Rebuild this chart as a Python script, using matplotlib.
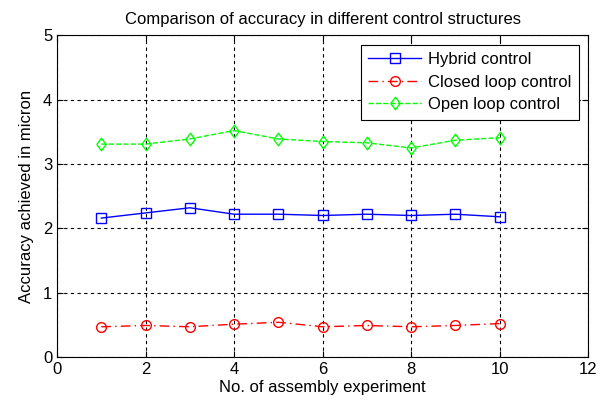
import matplotlib
matplotlib.use("Agg")
import matplotlib.pyplot as plt

# accuracy per assembly experiment (micron)
experiments = [1, 2, 3, 4, 5, 6, 7, 8, 9, 10]
hybrid = [2.16, 2.24, 2.32, 2.22, 2.22, 2.20, 2.22, 2.20, 2.22, 2.18]
closed_loop = [0.47, 0.49, 0.47, 0.51, 0.54, 0.47, 0.49, 0.47, 0.49, 0.52]
open_loop = [3.31, 3.31, 3.39, 3.52, 3.39, 3.35, 3.33, 3.25, 3.37, 3.41]

plt.rcParams['font.family'] = ['Liberation Sans', 'DejaVu Sans']
plt.rcParams['font.size'] = 12

# diamond a bit wider than matplotlib's thin 'd'
diamond = [(-0.75, 0), (0, 1), (0.75, 0), (0, -1), (-0.75, 0)]

fig = plt.figure(figsize=(6.07, 4.0), dpi=100)
ax = fig.add_axes([0.094, 0.1075, 0.875, 0.804])

ax.plot(experiments, hybrid, color='#0000ff', linestyle='-', marker='s',
        markersize=7, markerfacecolor='none', linewidth=1, label='Hybrid control')
ax.plot(experiments, closed_loop, color='#ff0000', linestyle=(0, (7, 3, 1, 3)),
        marker='o', markersize=7, markerfacecolor='none', linewidth=1,
        label='Closed loop control')
ax.plot(experiments, open_loop, color='#00ff00', linestyle='--', marker=diamond,
        markersize=9, markerfacecolor='none', linewidth=1, label='Open loop control')

ax.set_xlim(0, 12)
ax.set_ylim(0, 5)
ax.set_xticks(range(0, 13, 2))
ax.set_yticks(range(0, 6))
ax.grid(True, color='black', linestyle=(0, (3, 3)), linewidth=0.8)
ax.tick_params(direction='in', length=4, top=True, right=True, labelsize=12)

ax.set_title('Comparison of accuracy in different control structures', fontsize=12, pad=8)
ax.set_xlabel('No. of assembly experiment', labelpad=2)
ax.set_ylabel('Accuracy achieved in micron', labelpad=6)

leg = ax.legend(loc='upper right', fancybox=False, framealpha=1,
                edgecolor='black', fontsize=12, handlelength=3.2,
                handletextpad=0.4, labelspacing=0.45, borderpad=0.45,
                borderaxespad=0.55)
leg.get_frame().set_linewidth(0.8)

fig.savefig('out.png', dpi=100)
